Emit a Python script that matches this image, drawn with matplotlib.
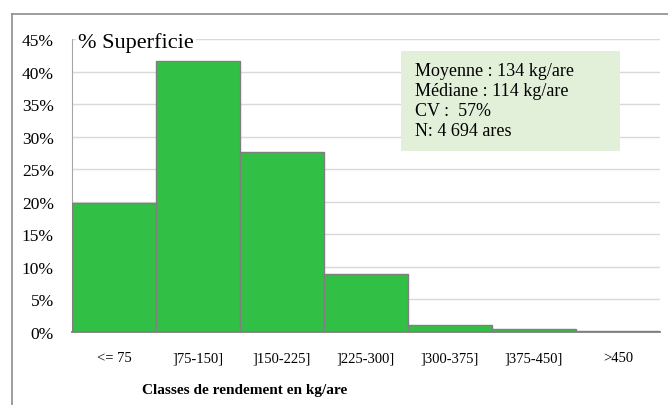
import matplotlib.pyplot as plt
from matplotlib.lines import Line2D
from matplotlib.patches import Rectangle
import numpy as np

# classes de rendement and share of area
classes = ["<= 75", "]75-150]", "]150-225]", "]225-300]", "]300-375]", "]375-450]", ">450"]
superficie = [19.8, 41.6, 27.7, 8.9, 1.1, 0.4, 0.1]
yticks = [0, 5, 10, 15, 20, 25, 30, 35, 40, 45]

stats_text = "Moyenne : 134 kg/are\nMédiane : 114 kg/are\nCV :  57%\nN: 4 694 ares"

plt.rcParams["font.family"] = ["Liberation Serif", "DejaVu Serif"]

W, H = 668, 406
fig = plt.figure(figsize=(W / 100, H / 100), dpi=100)

# outer frame (cut at right and bottom)
fig.add_artist(Line2D([12 / W, 1], [1 - 15 / H, 1 - 15 / H], color="#8c8c8c", lw=1.2))
fig.add_artist(Line2D([12 / W, 12 / W], [0, 1 - 15 / H], color="#8c8c8c", lw=1.2))

ax = fig.add_axes([72 / W, 73 / H, 588 / W, 293 / H])

x = np.arange(len(classes))
ax.bar(x, superficie, width=1.0, color="#32bf45", edgecolor="#7f7f7f", linewidth=1.0, zorder=3)

ax.set_xlim(-0.5, len(classes) - 0.5)
ax.set_ylim(0, 45)
ax.set_yticks(yticks)
ax.set_yticklabels([f"{v}%" for v in yticks], fontsize=12.5)
ax.set_xticks(x)
ax.set_xticklabels(classes, fontsize=10.5)
ax.tick_params(length=0, pad=13, axis="y")
ax.tick_params(length=0, pad=14, axis="x")

ax.grid(axis="y", color="#d9d9d9", lw=1.0, zorder=0)
for s in ["top", "right"]:
    ax.spines[s].set_visible(False)
ax.spines["left"].set_color("#a6a6a6")
ax.spines["bottom"].set_color("#7f7f7f")
ax.spines["bottom"].set_linewidth(1.3)
ax.spines["bottom"].set_zorder(4)

fig.text(245 / W, 1 - 391 / H, "Classes de rendement en kg/are", fontsize=11,
         fontweight="bold", ha="center", va="center")

ax.text(0.01, 0.99, "% Superficie", transform=ax.transAxes, fontsize=16,
        va="center", ha="left", zorder=5,
        bbox=dict(facecolor="white", edgecolor="none", pad=1.5))

# stats box
fig.add_artist(Rectangle((401 / W, 1 - 152 / H), 219 / W, 100 / H,
                         transform=fig.transFigure, facecolor="#e2efd9",
                         edgecolor="none", zorder=6))
fig.text(415 / W, 1 - 63 / H, stats_text, fontsize=13, va="top", ha="left",
         linespacing=1.22, zorder=7)

plt.savefig("out.png", dpi=100)
